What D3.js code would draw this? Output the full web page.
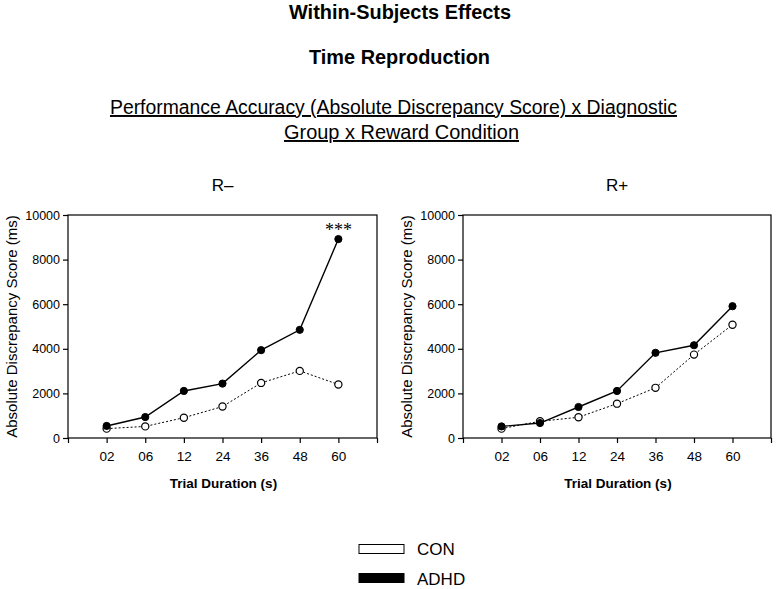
<!DOCTYPE html>
<html><head><meta charset="utf-8">
<script src="https://cdn.jsdelivr.net/npm/d3@7"></script>
<style>body{margin:0;background:#fff}</style>
</head><body>
<svg id="c" width="776" height="589"></svg>
<script>
const categories = ["02","06","12","24","36","48","60"];
const yTicks = [0,2000,4000,6000,8000,10000];
const adhdRminus = [540, 940, 2110, 2440, 3940, 4850, 8920];
const conRminus  = [420, 520, 910, 1410, 2470, 3010, 2400];
const adhdRplus  = [520, 670, 1390, 2110, 3820, 4160, 5910];
const conRplus   = [420, 750, 930, 1540, 2250, 3740, 5080];
const panelTitles = ["R\u2013", "R+"];
const legendLabels = ["CON", "ADHD"];

const svg = d3.select("#c");
const sans = "Arial,'Liberation Sans',sans-serif";

function title(txt, x, y, len, bold, underline, size){
  const t = svg.append("text").attr("x",x).attr("y",y).attr("text-anchor","middle")
    .attr("textLength",len).attr("lengthAdjust","spacingAndGlyphs")
    .style("font-family",sans).style("font-size",size+"px").text(txt);
  if(bold) t.style("font-weight","bold");
  if(underline) t.style("text-decoration","underline");
}
title("Within-Subjects Effects", 400, 18.5, 222, true, false, 20);
title("Time Reproduction", 399.5, 63.5, 181, true, false, 20);
title("Performance Accuracy (Absolute Discrepancy Score) x Diagnostic", 393.5, 114, 567, false, true, 19.5);
title("Group x Reward Condition", 401.5, 139, 235, false, true, 19.5);

const panels = [
  {x0:68, x1:377, title:panelTitles[0], adhd:adhdRminus, con:conRminus, star:true},
  {x0:463, x1:771, title:panelTitles[1], adhd:adhdRplus, con:conRplus, star:false}
];
const yTop=215, yBot=438;

panels.forEach(p=>{
  const g = svg.append("g");
  const x = d3.scaleLinear().domain([0,categories.length+1]).range([p.x0,p.x1]);
  const y = d3.scaleLinear().domain([0,10000]).range([yBot,yTop]);
  g.append("rect").attr("x",p.x0).attr("y",yTop).attr("width",p.x1-p.x0).attr("height",yBot-yTop)
    .attr("fill","none").attr("stroke","#000").attr("stroke-width",1.2);
  const ya = g.append("g").attr("transform",`translate(${p.x0},0)`)
    .call(d3.axisLeft(y).tickValues(yTicks).tickSize(5).tickPadding(3).tickFormat(d3.format("d")));
  ya.select(".domain").remove();
  ya.selectAll("text").style("font-family",sans).style("font-size","12.5px").attr("fill","#000");
  const xa = g.append("g").attr("transform",`translate(0,${yBot})`)
    .call(d3.axisBottom(x).tickValues(d3.range(0,categories.length+2)).tickSize(5).tickPadding(8)
      .tickFormat(d=> (d>=1 && d<=categories.length) ? categories[d-1] : ""));
  xa.select(".domain").remove();
  xa.selectAll("text").style("font-family",sans).style("font-size","13.5px").attr("fill","#000");
  g.selectAll(".tick line").attr("stroke","#000").attr("stroke-width",1.2);
  g.append("text").attr("x",(p.x0+p.x1)/2 + 1).attr("y",488).attr("text-anchor","middle")
    .style("font-family",sans).style("font-weight","bold").style("font-size","13.5px").text("Trial Duration (s)");
  g.append("text").attr("transform",`translate(${p.x0-51},${(yTop+yBot)/2}) rotate(-90)`)
    .attr("text-anchor","middle").style("font-family",sans).style("font-size","15px")
    .text("Absolute Discrepancy Score (ms)");
  g.append("text").attr("x",(p.x0+p.x1)/2).attr("y",191).attr("text-anchor","middle")
    .style("font-family",sans).style("font-size","17px").text(p.title);
  const line = d3.line().x((d,i)=>x(i+1)).y(d=>y(d));
  g.append("path").datum(p.con).attr("d",line).attr("fill","none").attr("stroke","#000")
    .attr("stroke-width",1).attr("stroke-dasharray","2,2");
  g.append("path").datum(p.adhd).attr("d",line).attr("fill","none").attr("stroke","#000")
    .attr("stroke-width",1.4);
  g.selectAll(".con").data(p.con).join("circle").attr("cx",(d,i)=>x(i+1)).attr("cy",d=>y(d))
    .attr("r",3.6).attr("fill","#fff").attr("stroke","#000").attr("stroke-width",1.2);
  g.selectAll(".adhd").data(p.adhd).join("circle").attr("cx",(d,i)=>x(i+1)).attr("cy",d=>y(d))
    .attr("r",3.6).attr("fill","#000").attr("stroke","#000");
  if(p.star){
    const last = categories.length;
    g.append("text").attr("x",x(last)).attr("y",y(p.adhd[last-1])-3).attr("text-anchor","middle")
      .style("font-family","'Liberation Serif','Times New Roman',serif").style("font-size","18px").text("***");
  }
});

const leg = svg.append("g");
leg.append("rect").attr("x",359).attr("y",544.5).attr("width",45).attr("height",9)
  .attr("fill","#fff").attr("stroke","#000").attr("stroke-width",1);
leg.append("rect").attr("x",359).attr("y",573.5).attr("width",45).attr("height",9)
  .attr("fill","#000").attr("stroke","#000").attr("stroke-width",1);
leg.append("text").attr("x",417).attr("y",555).style("font-family",sans).style("font-size","17px").text(legendLabels[0]);
leg.append("text").attr("x",417).attr("y",585).style("font-family",sans).style("font-size","17px").text(legendLabels[1]);
</script>
</body></html>
